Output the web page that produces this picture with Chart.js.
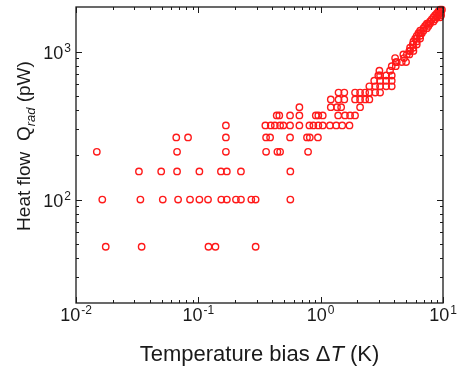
<!DOCTYPE html>
<html>
<head>
<meta charset="utf-8">
<script src="https://cdn.jsdelivr.net/npm/chart.js@4.4.0/dist/chart.umd.min.js"></script>
<style>
  html, body { margin: 0; padding: 0; background: #fff; }
  #wrap { width: 457px; height: 371px; }
</style>
</head>
<body>
<div id="wrap"><canvas id="chart" width="457" height="371"></canvas></div>
<script>
// axis ranges and tick labels
const xRange = [0.01, 10];
const yRange = [20, 2000];
const xMajorTicks = [0.01, 0.1, 1, 10];
const xTickExp = ['-2', '-1', '0', '1'];
const yMajorTicks = [100, 1000];
const yTickExp = ['2', '3'];

// heat flow levels (pW) and the temperature biases (K) measured at each level
const heatFlowLevels = [48, 100, 155, 210, 263, 317, 370, 421, 475, 528, 582, 635, 689, 742, 796, 849, 903,
  956, 1010, 1063, 1117, 1170, 1224, 1277, 1331, 1384, 1438, 1491, 1545, 1598, 1652, 1705, 1759, 1812, 1866, 1919];
const deltaTByLevel = [
  [0.0175, 0.0344, 0.121, 0.138, 0.294],
  [0.0164, 0.0336, 0.0512, 0.0683, 0.0855, 0.102, 0.120, 0.154, 0.171, 0.203, 0.223, 0.271, 0.294, 0.565],
  [0.0327, 0.0497, 0.067, 0.102, 0.153, 0.171, 0.223, 0.565],
  [0.0148, 0.067, 0.168, 0.358, 0.443, 0.466, 0.789],
  [0.066, 0.0824, 0.168, 0.358, 0.386, 0.562, 0.773, 0.815, 0.95],
  [0.168, 0.353, 0.391, 0.422, 0.466, 0.495, 0.562, 0.670, 0.809, 0.871, 0.957, 1.04, 1.19, 1.34, 1.50, 1.72],
  [0.437, 0.459, 0.562, 0.670, 0.912, 0.957, 1.04, 1.39, 1.58, 1.74, 1.91],
  [0.670, 1.21, 1.36, 1.47, 2.10],
  [1.21, 1.40, 1.56, 1.91, 2.10, 2.31, 2.50],
  [1.40, 1.56, 1.91, 2.10, 2.31, 2.50, 2.79, 3.06],
  [2.50, 2.79, 3.06, 3.43, 3.81],
  [2.74, 3.06, 3.43, 3.81],
  [2.96, 3.06, 3.43, 3.81],
  [3.02, 3.69],
  [3.81, 4.11],
  [4.11, 4.19, 4.60, 4.99],
  [4.06, 4.81],
  [4.74, 5.06, 5.31],
  [5.31, 5.38, 5.73],
  [5.38, 5.73],
  [5.66, 6.10],
  [5.73, 6.10],
  [5.92, 6.10, 6.50],
  [6.10, 6.50],
  [6.30, 6.50, 6.71],
  [6.50, 6.92],
  [6.92, 7.38],
  [7.14, 7.60],
  [7.38, 7.60, 7.84],
  [7.84, 8.36],
  [8.09, 8.62],
  [8.36, 8.90, 9.47],
  [8.62, 9.18, 9.66],
  [8.90, 9.18, 9.47],
  [9.18, 9.66],
  [9.47, 9.80]
];

const points = [];
heatFlowLevels.forEach((q, i) => deltaTByLevel[i].forEach(t => points.push({ x: t, y: q })));

const FONT = '"Liberation Sans", Arial, sans-serif';
const INK = '#1a1a1a';

function minorTicks(min, max) {
  const out = [];
  for (let d = Math.pow(10, Math.floor(Math.log10(min))); d < max; d *= 10) {
    for (let k = 2; k <= 9; k++) {
      const v = k * d;
      if (v > min * 1.0001 && v < max * 0.9999) out.push(v);
    }
  }
  return out;
}

// draws the closed frame, inward ticks, power-of-ten labels and axis titles
const frameAxes = {
  id: 'frameAxes',
  afterDatasetsDraw(chart) {
    const { ctx, chartArea: a, scales: { x, y } } = chart;
    ctx.save();
    ctx.strokeStyle = INK;
    ctx.lineWidth = 1.3;
    ctx.strokeRect(a.left, a.top, a.right - a.left, a.bottom - a.top);

    ctx.beginPath();
    const tickX = (v, len) => {
      const p = Math.round(x.getPixelForValue(v)) + 0.5;
      ctx.moveTo(p, a.bottom); ctx.lineTo(p, a.bottom - len);
      ctx.moveTo(p, a.top); ctx.lineTo(p, a.top + len);
    };
    const tickY = (v, len) => {
      const p = Math.round(y.getPixelForValue(v)) + 0.5;
      ctx.moveTo(a.left, p); ctx.lineTo(a.left + len, p);
      ctx.moveTo(a.right, p); ctx.lineTo(a.right - len, p);
    };
    xMajorTicks.forEach(v => tickX(v, 6));
    minorTicks(xRange[0], xRange[1]).forEach(v => tickX(v, 3));
    yMajorTicks.forEach(v => tickY(v, 6));
    minorTicks(yRange[0], yRange[1]).forEach(v => tickY(v, 3));
    ctx.lineWidth = 1;
    ctx.stroke();

    // tick labels 10^n
    ctx.fillStyle = INK;
    ctx.textBaseline = 'alphabetic';
    const base = `18px ${FONT}`, sup = `12px ${FONT}`;
    const powLabel = (exp, px, py, align) => {
      ctx.font = base; const wb = ctx.measureText('10').width;
      ctx.font = sup; const we = ctx.measureText(exp).width;
      const total = wb + we + 1;
      const left = align === 'right' ? px - total : px - total / 2;
      ctx.font = base; ctx.textAlign = 'left'; ctx.fillText('10', left, py);
      ctx.font = sup; ctx.fillText(exp, left + wb + 1, py - 7);
    };
    xMajorTicks.forEach((v, i) => powLabel(xTickExp[i], x.getPixelForValue(v), a.bottom + 18, 'center'));
    yMajorTicks.forEach((v, i) => powLabel(yTickExp[i], a.left - 5, y.getPixelForValue(v) + 7.5, 'right'));

    // x title: Temperature bias ΔT (K)
    const xParts = [
      ['Temperature bias \u0394', `22px ${FONT}`],
      ['T', `italic 22px ${FONT}`],
      [' (K)', `22px ${FONT}`]
    ];
    let w = 0;
    xParts.forEach(p => { ctx.font = p[1]; w += ctx.measureText(p[0]).width; });
    let cx = (a.left + a.right) / 2 - w / 2;
    xParts.forEach(p => { ctx.font = p[1]; ctx.fillText(p[0], cx, 361); cx += ctx.measureText(p[0]).width; });

    // y title: Heat flow Q_rad (pW)
    const yParts = [
      ['Heat flow  Q', `19px ${FONT}`, 0],
      ['rad', `italic 13px ${FONT}`, 5],
      [' (pW)', `19px ${FONT}`, 0]
    ];
    w = 0;
    yParts.forEach(p => { ctx.font = p[1]; w += ctx.measureText(p[0]).width; });
    ctx.translate(30, 146);
    ctx.rotate(-Math.PI / 2);
    cx = -w / 2;
    yParts.forEach(p => { ctx.font = p[1]; ctx.fillText(p[0], cx, p[2]); cx += ctx.measureText(p[0]).width; });
    ctx.restore();
  }
};

new Chart(document.getElementById('chart'), {
  type: 'scatter',
  data: {
    datasets: [{
      data: points,
      pointStyle: 'circle',
      pointRadius: 3.2,
      pointHoverRadius: 3.2,
      pointBorderWidth: 1.4,
      borderColor: '#ff1a1a',
      backgroundColor: 'rgba(0,0,0,0)',
      clip: false
    }]
  },
  options: {
    responsive: false,
    animation: false,
    layout: { padding: { left: 76, right: 14, top: 7, bottom: 68 } },
    plugins: { legend: { display: false }, tooltip: { enabled: false } },
    scales: {
      x: { type: 'logarithmic', min: xRange[0], max: xRange[1], display: false },
      y: { type: 'logarithmic', min: yRange[0], max: yRange[1], display: false }
    }
  },
  plugins: [frameAxes]
});
</script>
</body>
</html>
